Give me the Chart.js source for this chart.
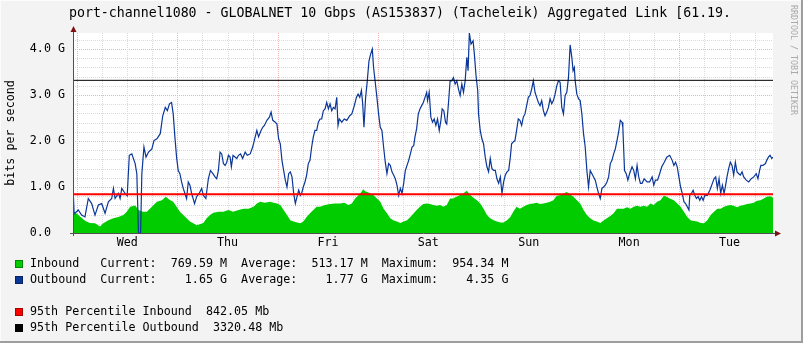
<!DOCTYPE html>
<html>
<head>
<meta charset="utf-8">
<title>port-channel1080 traffic</title>
<script src="https://cdn.jsdelivr.net/npm/chart.js@4/dist/chart.umd.min.js"></script>
<style>
  html, body { margin: 0; padding: 0; background: #f3f3f3; }
  canvas { display: block; }
</style>
</head>
<body>
<canvas id="traffic" width="803" height="343"></canvas>
<script>
// time axis is in hours after Wednesday 00:00
const X_MIN = -0.96;
const X_MAX = 166.4;
const dayNames = ['Wed', 'Thu', 'Fri', 'Sat', 'Sun', 'Mon', 'Tue'];

// outbound traffic, Gbit/s
const outHours = [-0.96, -0.7, -0.5, 0.3, 1.1, 1.9, 2.7, 3.5, 4.3, 5.1, 5.9, 6.7, 7.5, 8.3, 8.7, 9.1, 9.9, 10.3, 10.7, 11.5,
  12.0, 12.5, 13.1, 13.9, 14.3, 14.7, 15.2, 15.5, 16.0, 16.5, 17.1, 17.9, 18.4, 19.1, 19.9, 20.5, 21.1, 21.6, 22.1, 22.6,
  23.0, 23.4, 23.8, 24.2, 24.6, 25.0, 25.4, 25.8, 26.2, 26.6, 27.0, 27.4, 28.1, 28.6, 29.2, 29.8, 30.2, 30.8, 31.4, 31.9,
  32.5, 33.0, 33.4, 33.8, 34.2, 34.6, 35.0, 35.4, 35.8, 36.2, 36.6, 36.9, 37.3, 38.2, 38.6, 39.1, 39.6, 40.2, 40.7, 41.4,
  42.0, 42.6, 43.0, 43.4, 44.0, 44.4, 44.8, 45.4, 46.0, 46.4, 46.8, 47.4, 47.8, 48.2, 48.6, 49.0, 49.4, 49.8, 50.2, 50.6,
  51.0, 51.4, 51.8, 52.2, 52.6, 53.0, 53.4, 53.7, 54.1, 54.5, 54.9, 55.3, 55.7, 56.1, 56.5, 56.9, 57.3, 57.7, 58.1, 58.5,
  58.9, 59.3, 59.7, 60.1, 60.5, 60.9, 61.3, 61.7, 62.1, 62.4, 62.7, 63.3, 63.9, 64.5, 65.2, 65.7, 66.3, 66.8, 67.2, 67.6,
  68.0, 68.3, 68.6, 69.0, 69.4, 69.8, 70.2, 70.6, 70.9, 71.3, 71.7, 72.1, 72.5, 72.9, 73.3, 73.7, 74.1, 74.5, 74.9, 75.3,
  75.7, 76.1, 76.5, 76.9, 77.3, 77.7, 78.1, 78.5, 78.9, 79.3, 79.7, 80.1, 80.5, 80.8, 81.2, 81.6, 82.0, 82.4, 82.8, 83.2,
  83.6, 83.8, 84.2, 84.6, 85.0, 85.4, 85.8, 86.2, 86.6, 87.0, 87.3, 87.7, 88.1, 88.4, 88.8, 89.2, 89.6, 90.0, 90.4, 90.8,
  91.2, 91.6, 92.0, 92.4, 92.8, 93.2, 93.5, 93.8, 94.2, 94.7, 95.0, 95.4, 95.8, 96.0, 96.4, 96.8, 97.2, 97.6, 98.0, 98.4,
  98.8, 99.2, 99.6, 100.0, 100.4, 100.8, 101.2, 101.6, 102.0, 102.4, 102.8, 103.2, 103.6, 103.9, 104.3, 104.7, 105.1, 105.5, 105.9, 106.3,
  106.7, 107.1, 107.5, 107.9, 108.3, 108.7, 109.1, 109.5, 109.9, 110.3, 110.7, 111.1, 111.5, 111.9, 112.3, 112.7, 113.1, 113.5, 113.9, 114.3,
  114.7, 115.1, 115.5, 115.9, 116.3, 116.7, 117.1, 117.5, 117.9, 118.3, 118.6, 118.9, 119.1, 119.5, 119.9, 120.3, 120.7, 121.1, 121.5, 121.9,
  122.3, 122.7, 123.1, 123.5, 123.9, 124.3, 124.7, 125.1, 125.5, 125.9, 126.3, 126.7, 127.1, 127.5, 127.9, 128.3, 128.7, 129.1, 129.5, 129.9,
  130.3, 130.5, 130.9, 131.3, 131.7, 132.1, 132.7, 133.1, 133.5, 133.9, 134.3, 134.7, 135.1, 135.6, 136.3, 136.9, 137.5, 137.9, 138.3, 138.8,
  139.3, 139.8, 140.4, 141.0, 141.7, 142.3, 142.7, 143.1, 143.5, 143.9, 144.3, 144.7, 145.1, 145.5, 145.9, 146.3, 146.5, 146.9, 147.3, 147.7,
  148.1, 148.5, 148.9, 149.3, 149.7, 150.1, 150.7, 151.3, 151.9, 152.3, 152.7, 153.1, 153.5, 153.9, 154.3, 154.7, 155.0, 155.4, 155.8, 156.2,
  156.6, 157.0, 157.4, 157.8, 158.2, 158.6, 159.0, 159.4, 160.0, 160.6, 161.2, 161.8, 162.4, 162.8, 163.2, 163.5, 164.0, 164.6, 164.9, 165.3,
  165.7, 166.1, 166.4];
const outGbps = [1.02, 0.45, 0.43, 0.50, 0.39, 0.35, 0.75, 0.64, 0.39, 0.61, 0.64, 0.43, 0.68, 0.75, 0.97, 0.75, 0.86, 0.75, 0.97, 0.86,
  0.81, 1.69, 1.72, 1.51, 1.29, 0, 0, 1.29, 1.87, 1.65, 1.76, 1.83, 2.01, 2.05, 2.16, 2.55, 2.73, 2.66, 2.81, 2.84,
  2.59, 2.09, 1.65, 1.36, 1.29, 1.11, 0.97, 0.86, 0.75, 1.11, 1.04, 0.86, 0.64, 0.79, 0.86, 0.97, 0.82, 0.75, 1.18, 1.36,
  1.29, 1.22, 1.18, 1.36, 1.76, 1.72, 1.51, 1.47, 1.54, 1.69, 1.65, 1.44, 1.69, 1.62, 1.69, 1.72, 1.62, 1.76, 1.69, 1.72,
  1.87, 2.09, 2.23, 2.09, 2.23, 2.30, 2.34, 2.45, 2.52, 2.63, 2.45, 2.41, 2.37, 2.05, 1.94, 1.58, 1.36, 1.15, 1.00, 1.29,
  1.33, 1.22, 0.86, 0.64, 0.79, 0.93, 0.82, 0.86, 1.00, 1.11, 1.26, 1.51, 1.58, 1.87, 2.09, 2.23, 2.23, 2.41, 2.48, 2.48,
  2.66, 2.70, 2.84, 2.70, 2.81, 2.66, 2.73, 2.70, 2.95, 2.34, 2.48, 2.41, 2.48, 2.45, 2.55, 2.59, 2.77, 2.95, 3.02, 2.95,
  3.10, 2.81, 2.30, 2.95, 3.31, 3.74, 3.89, 4.00, 3.60, 3.28, 2.95, 2.59, 2.30, 2.23, 1.87, 1.54, 1.29, 1.51, 1.47, 1.33,
  1.26, 1.18, 1.04, 0.82, 0.97, 0.86, 1.08, 1.36, 1.47, 1.58, 1.72, 1.87, 1.90, 2.09, 2.27, 2.59, 2.70, 2.77, 2.84, 2.95,
  3.06, 2.88, 3.06, 2.52, 2.41, 2.48, 2.34, 2.48, 2.23, 2.45, 2.70, 2.66, 2.41, 2.37, 2.81, 3.31, 3.31, 3.38, 3.24, 3.31,
  3.13, 2.99, 3.24, 3.06, 3.31, 3.82, 3.53, 4.35, 4.11, 4.18, 3.89, 3.42, 3.10, 2.59, 2.23, 2.05, 1.94, 1.65, 1.44, 1.33,
  1.62, 1.40, 1.36, 1.36, 1.18, 1.08, 1.22, 0.86, 1.11, 1.26, 1.33, 1.36, 1.65, 1.94, 1.98, 2.01, 2.23, 2.48, 2.45, 2.34,
  2.52, 2.59, 2.77, 2.95, 2.99, 3.13, 3.31, 3.06, 2.95, 2.84, 2.77, 2.88, 2.66, 2.55, 2.63, 2.73, 2.92, 2.81, 2.88, 3.02,
  3.20, 3.31, 3.28, 2.73, 2.59, 2.99, 3.06, 3.38, 4.09, 3.82, 3.53, 3.60, 3.31, 3.02, 2.92, 2.88, 2.59, 2.16, 1.87, 1.36,
  1.00, 1.36, 1.29, 1.22, 1.15, 1.00, 0.86, 0.75, 0.97, 1.00, 1.04, 1.11, 1.22, 1.51, 1.58, 1.72, 1.83, 2.01, 2.20, 2.45,
  2.41, 2.30, 1.36, 1.29, 1.15, 1.29, 1.44, 1.36, 1.18, 1.47, 1.22, 1.08, 1.08, 1.18, 1.11, 1.11, 1.22, 1.04, 1.15, 1.15,
  1.29, 1.44, 1.54, 1.65, 1.69, 1.58, 1.47, 1.54, 1.44, 1.22, 1.00, 0.86, 0.68, 0.64, 0.57, 0.50, 0.82, 0.86, 0.93, 0.82,
  0.75, 0.79, 0.71, 0.79, 0.71, 0.82, 0.82, 0.93, 1.08, 1.18, 1.22, 0.97, 1.18, 0.86, 1.04, 0.86, 1.00, 1.22, 1.40, 1.54,
  1.47, 1.26, 1.54, 1.33, 1.29, 1.26, 1.33, 1.22, 1.15, 1.11, 1.18, 1.22, 1.29, 1.18, 1.36, 1.47, 1.47, 1.51, 1.58, 1.65,
  1.69, 1.62, 1.65];

// inbound traffic, Gbit/s
const inHours = [-0.96, -0.5, 0.0, 0.7, 2.0, 3.1, 4.3, 5.5, 6.3, 7.5, 8.7, 9.9, 11.1, 11.9, 12.7, 13.9, 14.7, 15.7, 16.7, 17.9,
  19.1, 20.3, 21.2, 22.2, 23.0, 23.8, 24.6, 25.4, 26.2, 27.0, 27.8, 28.6, 29.4, 30.2, 31.0, 31.8, 32.6, 33.8, 35.0, 36.2,
  37.3, 38.6, 39.8, 41.0, 42.2, 43.0, 43.8, 44.9, 46.2, 47.0, 47.8, 48.6, 49.4, 50.2, 51.0, 51.8, 52.6, 53.4, 54.1, 54.9,
  55.7, 56.5, 57.3, 58.1, 59.3, 60.5, 61.7, 62.9, 63.9, 64.9, 65.7, 66.5, 67.3, 68.1, 68.4, 68.9, 69.4, 70.2, 70.9, 71.7,
  72.5, 73.3, 74.1, 74.9, 75.7, 76.5, 77.3, 78.1, 78.9, 79.7, 80.5, 81.2, 82.0, 82.8, 83.6, 84.4, 85.2, 86.0, 86.8, 87.6,
  88.4, 89.2, 89.9, 90.7, 91.5, 92.3, 93.2, 93.9, 94.7, 95.6, 96.4, 97.2, 98.0, 98.8, 99.6, 100.4, 101.2, 102.0, 102.8, 103.6,
  104.3, 105.1, 105.9, 106.7, 107.5, 108.3, 109.1, 109.9, 110.7, 111.5, 112.3, 113.1, 113.9, 114.7, 115.5, 116.3, 117.1, 117.9, 118.7, 119.5,
  120.3, 121.1, 121.9, 122.7, 123.5, 124.3, 125.1, 125.9, 126.7, 127.5, 128.3, 129.1, 129.9, 130.7, 131.5, 132.3, 133.1, 133.9, 134.7, 135.5,
  136.3, 137.1, 137.9, 138.7, 139.5, 140.3, 141.0, 141.7, 142.7, 143.5, 144.3, 145.1, 145.9, 146.7, 147.5, 148.3, 149.1, 149.9, 150.7, 151.5,
  152.3, 153.1, 153.9, 154.7, 155.4, 156.2, 157.0, 157.8, 158.6, 159.4, 160.2, 161.0, 161.8, 162.6, 163.4, 164.2, 164.9, 165.7, 166.4];
const inGbps = [0.45, 0.43, 0.42, 0.36, 0.26, 0.22, 0.21, 0.14, 0.21, 0.28, 0.32, 0.35, 0.39, 0.46, 0.57, 0.60, 0.50, 0.46, 0.46, 0.57,
  0.68, 0.71, 0.79, 0.72, 0.68, 0.57, 0.46, 0.39, 0.32, 0.25, 0.21, 0.17, 0.19, 0.22, 0.32, 0.39, 0.44, 0.46, 0.46, 0.50,
  0.46, 0.50, 0.53, 0.53, 0.57, 0.64, 0.68, 0.66, 0.68, 0.66, 0.64, 0.61, 0.50, 0.39, 0.28, 0.25, 0.23, 0.21, 0.25, 0.35,
  0.43, 0.50, 0.57, 0.57, 0.61, 0.63, 0.64, 0.64, 0.66, 0.61, 0.64, 0.75, 0.82, 0.90, 0.954, 0.91, 0.89, 0.86, 0.82, 0.75,
  0.68, 0.53, 0.43, 0.32, 0.27, 0.25, 0.22, 0.25, 0.28, 0.35, 0.43, 0.50, 0.57, 0.63, 0.64, 0.63, 0.61, 0.59, 0.61, 0.57,
  0.61, 0.75, 0.75, 0.79, 0.82, 0.86, 0.92, 0.84, 0.77, 0.71, 0.64, 0.53, 0.39, 0.32, 0.28, 0.25, 0.23, 0.23, 0.28, 0.35,
  0.46, 0.57, 0.53, 0.57, 0.61, 0.63, 0.64, 0.66, 0.63, 0.64, 0.66, 0.68, 0.71, 0.81, 0.82, 0.86, 0.89, 0.84, 0.79, 0.71,
  0.64, 0.50, 0.39, 0.32, 0.27, 0.25, 0.22, 0.27, 0.32, 0.37, 0.43, 0.53, 0.53, 0.53, 0.56, 0.53, 0.57, 0.59, 0.57, 0.59,
  0.57, 0.64, 0.61, 0.68, 0.71, 0.81, 0.79, 0.75, 0.71, 0.64, 0.57, 0.46, 0.35, 0.28, 0.26, 0.25, 0.22, 0.21, 0.28, 0.39,
  0.46, 0.53, 0.53, 0.57, 0.59, 0.61, 0.59, 0.56, 0.59, 0.61, 0.63, 0.64, 0.66, 0.70, 0.71, 0.75, 0.79, 0.80, 0.7696];

// legend figures: current, average, maximum
const inStatsM = [769.59, 513.17, 954.34];
const outStatsG = [1.65, 1.77, 4.35];
const pct95InMb = 842.05;
const pct95OutMb = 3320.48;

const GREEN = '#00cc00';
const BLUE = '#0a3699';
const MONO = "'DejaVu Sans Mono', 'Liberation Mono', monospace";
const TITLE = 'port-channel1080 - GLOBALNET 10 Gbps (AS153837) (Tacheleik) Aggregated Link [61.19.';

const toPoints = (xs, ys) => xs.map((x, i) => ({ x: x, y: ys[i] }));
const rule = v => [{ x: X_MIN, y: v }, { x: X_MAX, y: v }];

const isWhole = v => Math.abs(v - Math.round(v)) < 1e-6;

// dotted rrd style grid: grey every 6 h / 0.2 G, red at midnight / whole G
const rrdGrid = {
  id: 'rrdGrid',
  beforeDatasetsDraw(chart) {
    const { ctx, chartArea: a, scales: { x, y } } = chart;
    ctx.save();
    ctx.lineWidth = 1;
    ctx.setLineDash([1, 1]);
    const line = (x1, y1, x2, y2, color) => {
      ctx.strokeStyle = color;
      ctx.beginPath();
      ctx.moveTo(x1, y1);
      ctx.lineTo(x2, y2);
      ctx.stroke();
    };
    for (let i = 1; i <= 21; i++) {
      const v = i / 5;
      const py = Math.round(y.getPixelForValue(v)) + 0.5;
      line(a.left, py, a.right, py, isWhole(v) ? '#ebb3b3' : '#dadada');
    }
    for (let h = 0; h < X_MAX; h += 6) {
      const px = Math.round(x.getPixelForValue(h)) + 0.5;
      line(px, a.top, px, a.bottom, h % 24 === 0 ? '#ebb3b3' : '#dadada');
    }
    ctx.restore();
  }
};

// background, frame, title, legend and axis arrows
const rrdLook = {
  id: 'rrdLook',
  beforeDraw(chart) {
    const { ctx, chartArea: a } = chart;
    const W = chart.width, H = chart.height;
    ctx.save();
    ctx.fillStyle = '#f3f3f3';
    ctx.fillRect(0, 0, W, H);
    ctx.fillStyle = '#fcfcfc';
    ctx.fillRect(0, 0, W, 1);
    ctx.fillRect(0, 0, 1, H);
    ctx.fillStyle = '#9e9e9e';
    ctx.fillRect(W - 2, 0, 2, H);
    ctx.fillRect(0, H - 2, W, 2);
    ctx.fillStyle = '#ffffff';
    ctx.fillRect(a.left, a.top, a.right - a.left, a.bottom - a.top);
    ctx.restore();
  },
  afterDraw(chart) {
    const { ctx, chartArea: a } = chart;
    ctx.save();

    // axes with arrow heads
    ctx.strokeStyle = '#505050';
    ctx.lineWidth = 1;
    ctx.beginPath();
    ctx.moveTo(a.left + 0.5, a.bottom + 3);
    ctx.lineTo(a.left + 0.5, a.top - 4);
    ctx.moveTo(a.left - 3, a.bottom + 0.5);
    ctx.lineTo(a.right + 4, a.bottom + 0.5);
    ctx.stroke();
    ctx.fillStyle = '#7f1010';
    ctx.beginPath();
    ctx.moveTo(a.left + 0.5, a.top - 7);
    ctx.lineTo(a.left - 2.5, a.top - 1);
    ctx.lineTo(a.left + 3.5, a.top - 1);
    ctx.closePath();
    ctx.fill();
    ctx.beginPath();
    ctx.moveTo(a.right + 8, a.bottom + 0.5);
    ctx.lineTo(a.right + 2, a.bottom - 2.5);
    ctx.lineTo(a.right + 2, a.bottom + 3.5);
    ctx.closePath();
    ctx.fill();

    // title
    ctx.fillStyle = '#000';
    ctx.font = '13.25px ' + MONO;
    ctx.textAlign = 'center';
    ctx.textBaseline = 'middle';
    ctx.fillText(TITLE, 400, 14);

    // side watermark
    ctx.save();
    ctx.translate(793, 5);
    ctx.rotate(Math.PI / 2);
    ctx.fillStyle = '#a9a9a9';
    ctx.font = '8.3px ' + MONO;
    ctx.textAlign = 'left';
    ctx.fillText('RRDTOOL / TOBI OETIKER', 0, 0);
    ctx.restore();

    // legend
    const num = v => v.toFixed(2).padStart(6);
    const statLine = (name, s, unit) =>
      name.padEnd(10) + 'Current:  ' + num(s[0]) + ' ' + unit + '  Average:  ' + num(s[1]) + ' ' + unit +
      '  Maximum:  ' + num(s[2]) + ' ' + unit;
    const rows = [
      { y: 263.5, color: GREEN, text: statLine('Inbound', inStatsM, 'M') },
      { y: 279.5, color: BLUE, text: statLine('Outbound', outStatsG, 'G') },
      { y: 311.5, color: '#ff0000', text: '95th Percentile Inbound  ' + pct95InMb.toFixed(2) + ' Mb' },
      { y: 327.5, color: '#000000', text: '95th Percentile Outbound  ' + pct95OutMb.toFixed(2) + ' Mb' }
    ];
    ctx.font = '11.7px ' + MONO;
    ctx.textAlign = 'left';
    rows.forEach(r => {
      ctx.fillStyle = r.color;
      ctx.fillRect(15, Math.round(r.y) - 4, 8, 8);
      ctx.strokeStyle = 'rgba(0,0,0,0.35)';
      ctx.strokeRect(15.5, Math.round(r.y) - 3.5, 7, 7);
      ctx.fillStyle = '#000';
      ctx.fillText(r.text, 30, r.y);
    });
    ctx.restore();
  }
};

const tickFont = { family: MONO, size: 11.7 };

new Chart(document.getElementById('traffic'), {
  type: 'line',
  data: {
    datasets: [
      {
        label: '95th Percentile Inbound',
        data: rule(pct95InMb / 1000),
        borderColor: '#ff0000',
        borderWidth: 2,
        order: 0
      },
      {
        label: '95th Percentile Outbound',
        data: rule(pct95OutMb / 1000),
        borderColor: '#000000',
        borderWidth: 1,
        order: 0
      },
      {
        label: 'Outbound',
        data: toPoints(outHours, outGbps),
        borderColor: BLUE,
        borderWidth: 1.2,
        order: 1
      },
      {
        label: 'Inbound',
        data: toPoints(inHours, inGbps),
        borderWidth: 0,
        borderColor: GREEN,
        backgroundColor: GREEN,
        fill: 'origin',
        order: 2
      }
    ]
  },
  options: {
    responsive: false,
    animation: false,
    events: [],
    layout: { padding: { top: 33, right: 30, bottom: 0, left: 0 }, autoPadding: false },
    elements: { point: { radius: 0 }, line: { tension: 0 } },
    plugins: {
      legend: { display: false },
      title: { display: false },
      tooltip: { enabled: false }
    },
    scales: {
      x: {
        type: 'linear',
        min: X_MIN,
        max: X_MAX,
        afterBuildTicks: s => {
          const t = [];
          for (let h = 0; h < X_MAX; h += 6) t.push({ value: h });
          s.ticks = t;
        },
        afterFit: s => { s.height = 110; },
        ticks: {
          autoSkip: false,
          maxRotation: 0,
          padding: 3,
          color: '#000',
          font: tickFont,
          callback: v => (v % 24 === 12 ? dayNames[(v - 12) / 24] : '')
        },
        grid: { display: false, drawTicks: false },
        border: { display: false }
      },
      y: {
        min: 0,
        max: 4.35,
        afterBuildTicks: s => {
          const t = [];
          for (let i = 0; i <= 21; i++) t.push({ value: i / 5 });
          s.ticks = t;
        },
        afterFit: s => { s.width = 73; },
        ticks: {
          autoSkip: false,
          padding: 8,
          color: '#000',
          font: tickFont,
          callback: v => {
            if (!isWhole(v)) return '';
            return Math.round(v) === 0 ? '0.0  ' : v.toFixed(1) + ' G';
          }
        },
        grid: { display: false, drawTicks: false },
        border: { display: false },
        title: {
          display: true,
          text: 'bits per second',
          color: '#000',
          font: tickFont,
          padding: { top: 3.5, bottom: 0 }
        }
      }
    }
  },
  plugins: [rrdGrid, rrdLook]
});
</script>
</body>
</html>
